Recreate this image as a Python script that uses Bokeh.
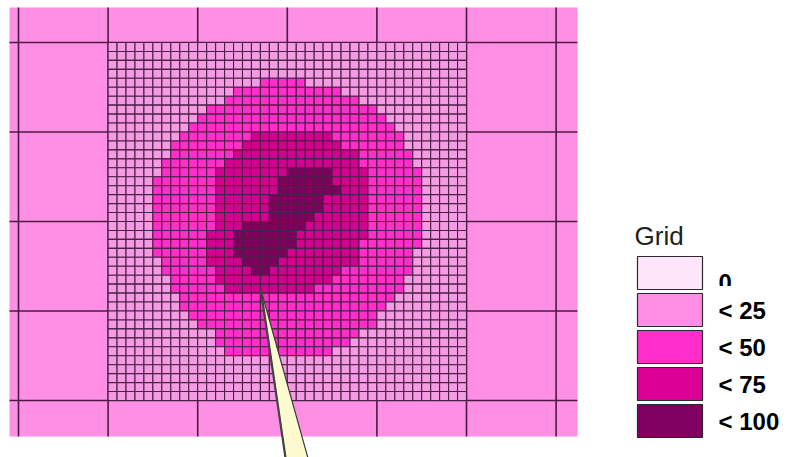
from bokeh.plotting import figure
from bokeh.models import Range1d, ColumnDataSource
from bokeh.embed import file_html
from bokeh.resources import INLINE
from bokeh.core.properties import value

# ---------------- data ----------------
LEGEND_TITLE = "Grid"
LEVEL_LABELS = ["0", "< 25", "< 50", "< 75", "< 100"]
LEVEL_COLORS = ["#ffe6fa", "#ff8fe4", "#ff2ecb", "#db0096", "#800062"]
# colours of the fine cells (as they appear, drawn under dense cell lines)
FINE_COLORS = {"1": "#f59be3", "2": "#ff2ecb", "3": "#d4008f", "4": "#7d005c"}
COARSE_LEVEL = 1  # every coarse cell is "< 25"

# fine 40x40 grid (row 0 = top), class index per cell
FINE_ROWS = [
    "1111111111 1111111111 1111111111 1111111111",  # 0
    "1111111111 1111111111 1111111111 1111111111",  # 1
    "1111111111 1111111111 1111111111 1111111111",  # 2
    "1111111111 1111111111 1111111111 1111111111",  # 3
    "1111111111 1111111222 2211111111 1111111111",  # 4
    "1111111111 1111222222 2222221111 1111111111",  # 5
    "1111111111 1112222222 2222222211 1111111111",  # 6
    "1111111111 1222222222 2222222222 1111111111",  # 7
    "1111111111 2222222222 2222222222 2111111111",  # 8
    "1111111112 2222222222 2222222222 2211111111",  # 9
    "1111111122 2222223333 3333322222 2221111111",  # 10
    "1111111222 2222233333 3333332222 2221111111",  # 11
    "1111111222 2222333333 3333333322 2222111111",  # 12
    "1111112222 2223333333 3333333322 2222111111",  # 13
    "1111112222 2233333333 4444433332 2222211111",  # 14
    "1111122222 2233333334 4444433332 2222211111",  # 15
    "1111122222 2233333334 4444443332 2222211111",  # 16
    "1111122222 2233333344 4444333332 2222211111",  # 17
    "1111122222 2233333344 4444333332 2222211111",  # 18
    "1111122222 2233333344 4443333332 2222211111",  # 19
    "1111122222 2233344444 4433333332 2222211111",  # 20
    "1111122222 2333444444 4333333332 2222211111",  # 21
    "1111122222 2333444444 4333333322 2222211111",  # 22
    "1111122222 2333444444 3333333322 2222111111",  # 23
    "1111112222 2333344443 3333333322 2222111111",  # 24
    "1111112222 2233334433 3333332222 2222111111",  # 25
    "1111111222 2233333333 3333322222 2221111111",  # 26
    "1111111222 2223333333 3332222222 2221111111",  # 27
    "1111111122 2222222222 2222222222 2211111111",  # 28
    "1111111122 2222222222 2222222222 2111111111",  # 29
    "1111111112 2222222222 2222222222 1111111111",  # 30
    "1111111111 2222222222 2222222222 1111111111",  # 31
    "1111111111 1122222222 2222222211 1111111111",  # 32
    "1111111111 1122222222 2222222111 1111111111",  # 33
    "1111111111 1112222222 2222211111 1111111111",  # 34
    "1111111111 1111111111 1111111111 1111111111",  # 35
    "1111111111 1111111111 1111111111 1111111111",  # 36
    "1111111111 1111111111 1111111111 1111111111",  # 37
    "1111111111 1111111111 1111111111 1111111111",  # 38
    "1111111111 1111111111 1111111111 1111111111",  # 39
]

# pointer (needle) in fine-grid units: tip and the two base corners
NEEDLE_COLS = [17.05, 19.8, 22.3]
NEEDLE_ROWS = [27.6, 46.4, 46.4]

# ---------------- geometry (page pixels) ----------------
X0, Y0 = 18.0, 42.0          # first coarse grid line
CW, CH = 89.6, 89.5          # coarse cell size
NSUB = 10                    # fine cells per coarse cell
FINE_C0, FINE_R0 = 1, 0      # fine block starts at coarse column 1, row 0
MAP_L, MAP_R, MAP_T, MAP_B = 9.0, 577.0, 7.0, 436.0
N_VLINES, N_HLINES = 7, 5

W, H = 799, 457
p = figure(width=W, height=H, x_range=Range1d(0, W), y_range=Range1d(H, 0),
           toolbar_location=None, output_backend="svg", min_border=0)
p.axis.visible = False
p.grid.visible = False
p.outline_line_color = None
p.background_fill_color = "white"
p.border_fill_color = "white"

# map background (coarse cells)
p.quad(left=[MAP_L], right=[MAP_R], top=[MAP_T], bottom=[MAP_B],
       fill_color=LEVEL_COLORS[COARSE_LEVEL], line_color=None)

# coarse grid lines
vx = [X0 + k * CW for k in range(N_VLINES)]
p.segment(x0=vx, x1=vx, y0=[MAP_T] * len(vx), y1=[MAP_B] * len(vx),
          line_color="#4a1a42", line_width=1.6)
hy = [Y0 + j * CH for j in range(N_HLINES)]
p.segment(x0=[MAP_L] * len(hy), x1=[MAP_R] * len(hy), y0=hy, y1=hy,
          line_color="#4a1a42", line_width=1.6)

# fine cells
fw, fh = CW / NSUB, CH / NSUB
fx0, fy0 = X0 + FINE_C0 * CW, Y0 + FINE_R0 * CH
L, R, T, B, C = [], [], [], [], []
for r, row in enumerate(FINE_ROWS):
    cells = "".join(row.split())
    for c, ch in enumerate(cells):
        L.append(fx0 + c * fw)
        R.append(fx0 + (c + 1) * fw)
        T.append(fy0 + r * fh)
        B.append(fy0 + (r + 1) * fh)
        C.append(FINE_COLORS[ch])
src = ColumnDataSource(dict(left=L, right=R, top=T, bottom=B, color=C))
p.quad(left="left", right="right", top="top", bottom="bottom", source=src,
       fill_color="color", line_color="#4a2046", line_width=1.1)

# needle
nx = [fx0 + c * fw for c in NEEDLE_COLS]
ny = [fy0 + r * fh for r in NEEDLE_ROWS]
p.patch(x=nx, y=ny, fill_color="#fffbd0", line_color="#3a3a3a", line_width=1.2)
p.line(x=nx[:2], y=ny[:2], line_color="#444444", line_width=2.2)

# legend
LX0, LX1 = 637, 702
LTOP0, LSTEP, LBOXH = 256, 37, 33
tops = [LTOP0 + i * LSTEP for i in range(len(LEVEL_LABELS))]
p.quad(left=[LX0] * len(tops), right=[LX1] * len(tops), top=tops,
       bottom=[t + LBOXH for t in tops], fill_color=LEVEL_COLORS,
       line_color="#2a2a2a", line_width=1.2)
p.text(x=[634], y=[235], text=[LEGEND_TITLE], text_font=value("Liberation Sans"),
       text_font_size="26px", text_color="#1e1e1e", text_baseline="alphabetic",
       text_align="left")
label_y = [t + 17 for t in tops]
label_y[0] = tops[0] + 26   # the "0" sits lower in the original
p.text(x=[718] * len(tops), y=label_y, text=LEVEL_LABELS,
       text_font=value("Liberation Sans"), text_font_style="bold",
       text_font_size="24px", text_color="black", text_baseline="alphabetic",
       text_align="left")
# the "0" label is partly hidden in the original
p.quad(left=[704], right=[772], top=[285.5], bottom=[292.6],
       fill_color="white", line_color=None)

open("out.html", "w").write(file_html(p, INLINE))
